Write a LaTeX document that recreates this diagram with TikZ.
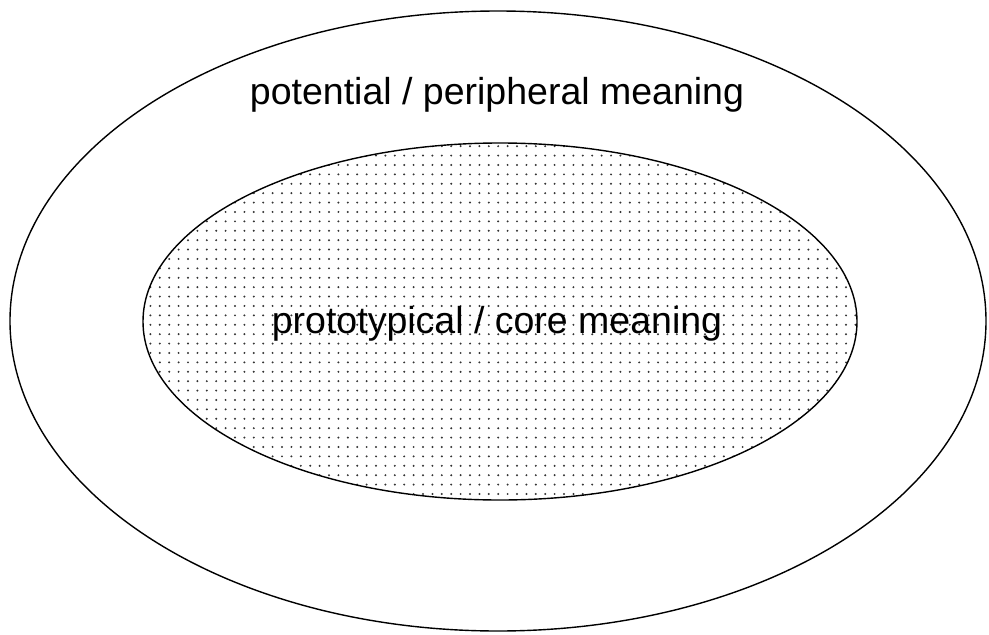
\documentclass[tikz,border=0pt]{standalone}
\usepackage{fontspec}
\setmainfont{Liberation Sans}
\usetikzlibrary{patterns.meta,shapes.geometric}
\begin{document}
\begin{tikzpicture}[x=1pt,y=-1pt,
  ring/.style={draw=black,line width=1.4pt},
  lbl/.style={font=\fontsize{37.5}{40}\selectfont,anchor=base,inner sep=0pt}]
\useasboundingbox (0,0) rectangle (989,635);
\node[ring,ellipse,minimum width=976pt,minimum height=620pt,inner sep=0pt] (outer) at (498,321) {};
\node[ring,ellipse,minimum width=714pt,minimum height=357pt,inner sep=0pt,
  pattern={Dots[distance=9.4pt,radius=1.1pt]},pattern color=black!80] (inner) at (500,321.5) {};
\node[lbl] (peri) at (497,104) {potential / peripheral meaning};
\node[lbl] (core) at (497,333) {prototypical / core meaning};
\end{tikzpicture}
\end{document}
